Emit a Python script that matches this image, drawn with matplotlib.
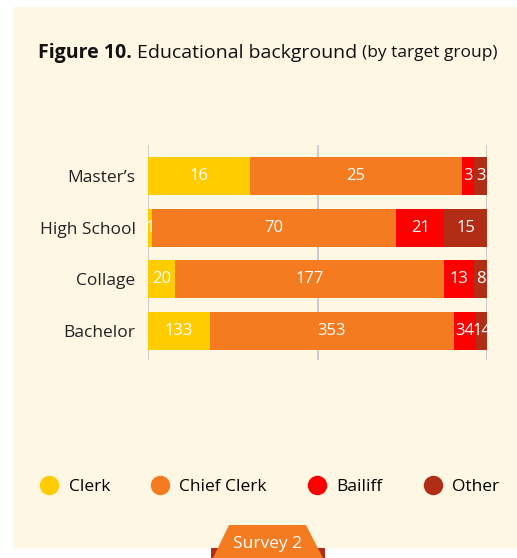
import matplotlib.pyplot as plt
import numpy as np
from matplotlib.lines import Line2D
from matplotlib.patches import Polygon, Rectangle

categories = ["Master\u2019s", "High School", "Collage", "Bachelor"]
groups = ["Clerk", "Chief Clerk", "Bailiff", "Other"]

# counts printed on the bars
clerk = [16, 1, 20, 133]
chief_clerk = [25, 70, 177, 353]
bailiff = [3, 21, 13, 34]
other = [3, 15, 8, 14]

# bar lengths (% of each row) as drawn in the source chart
clerk_pct = [30.0, 1.1, 7.9, 18.2]
chief_clerk_pct = [62.7, 72.1, 79.5, 72.1]
bailiff_pct = [3.5, 14.2, 8.8, 6.5]
other_pct = [3.8, 12.6, 3.8, 3.2]

colors = ["#FFCC00", "#F47B20", "#FF0000", "#B22D16"]
BG = "#FDF7E4"

plt.rcParams['font.family'] = ['Open Sans', 'DejaVu Sans']

W, H = 517, 558
fig = plt.figure(figsize=(W / 100, H / 100), dpi=100)
fig.patch.set_facecolor("white")

# cream panel behind everything
fig.patches.append(Rectangle((13 / W, 1 - 548 / H), (W - 13) / W, (548 - 7) / H,
                             transform=fig.transFigure, facecolor=BG, edgecolor="none", zorder=-5))

ax = fig.add_axes([148 / W, 1 - 360 / H, (487 - 148) / W, 215 / H])
ax.patch.set_alpha(0)

counts = np.array([clerk, chief_clerk, bailiff, other])
pcts = np.array([clerk_pct, chief_clerk_pct, bailiff_pct, other_pct], dtype=float)
pcts = pcts / pcts.sum(axis=0) * 100
ypos = np.array([3, 2, 1, 0])

left = np.zeros(len(categories))
for i, g in enumerate(groups):
    ax.barh(ypos, pcts[i], left=left, height=0.735, color=colors[i], zorder=2)
    for j in range(len(categories)):
        ax.text(left[j] + pcts[i][j] / 2, ypos[j], str(counts[i][j]),
                ha="center", va="center", color="white", fontsize=12, zorder=3)
    left += pcts[i]

ax.set_xlim(0, 100)
ax.set_ylim(-0.56, 3.6)
ax.set_xticks([0, 50, 100])
ax.grid(axis="x", color="#C8C8C8", linewidth=1.3, zorder=1)
ax.tick_params(length=0, labelbottom=False)
ax.set_yticks(ypos)
ax.set_yticklabels(categories, fontsize=12.5, color="#222222")
ax.tick_params(axis="y", pad=9)
for s in ax.spines.values():
    s.set_visible(False)

# title in three pieces
ty = 1 - 53 / H
t1 = fig.text(38 / W, ty, "Figure 10.", fontsize=14, fontweight="bold",
              va="center", ha="left", color="#111111")
fig.canvas.draw()
bb = t1.get_window_extent()
t2 = fig.text((bb.x1 + 5) / W, ty, "Educational background", fontsize=14,
              va="center", ha="left", color="#111111")
fig.canvas.draw()
bb2 = t2.get_window_extent()
fig.text((bb2.x1 + 5) / W, ty, "(by target group)", fontsize=12.5,
         va="center", ha="left", color="#111111")

# legend
handles = [Line2D([], [], marker="o", linestyle="none", markersize=14,
                  markerfacecolor=c, markeredgecolor="none") for c in colors]
fig.legend(handles, groups, loc="center", bbox_to_anchor=(270 / W, 1 - 487 / H),
           ncol=4, frameon=False, fontsize=12.5, handletextpad=0.6,
           columnspacing=2.4, handlelength=1.0)

# survey tab
fig.patches.append(Rectangle((211 / W, 0), (325 - 211) / W, 10 / H,
                             transform=fig.transFigure, facecolor="#B22D16",
                             edgecolor="none", zorder=1))
fig.patches.append(Polygon([(213 / W, 0), (229 / W, 1 - 525 / H), (306 / W, 1 - 525 / H),
                            (323 / W, 0)], closed=True, transform=fig.transFigure,
                           facecolor="#F47B20", edgecolor="none", zorder=2))
fig.text(268 / W, 1 - 544 / H, "Survey 2", color="white", fontsize=12.5,
         ha="center", va="center", zorder=3)

fig.savefig("out.png", dpi=100, facecolor=fig.get_facecolor())
